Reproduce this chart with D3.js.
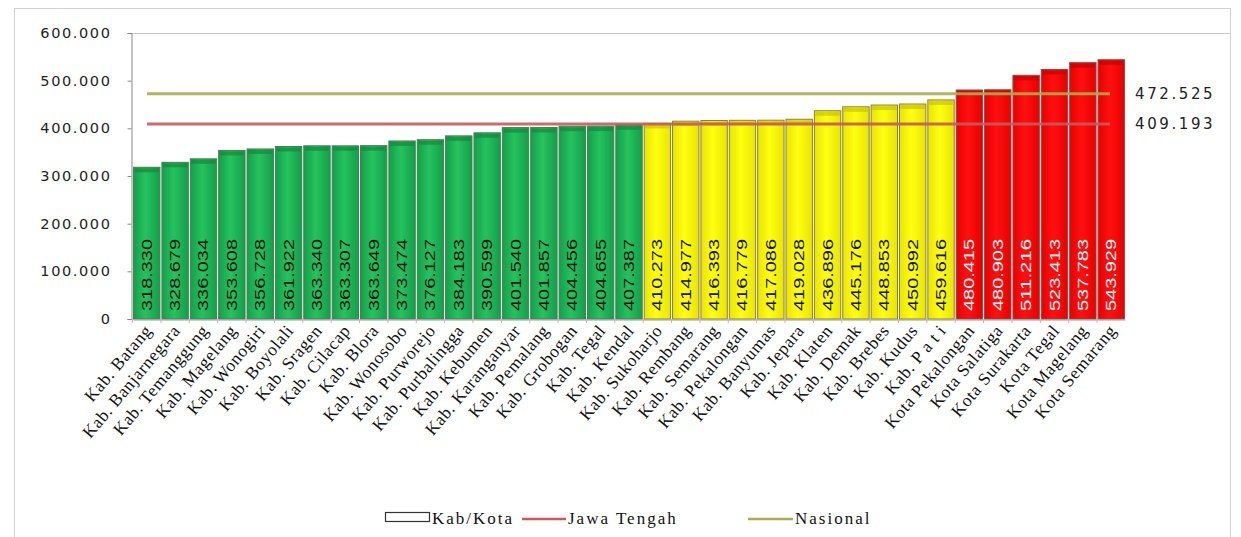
<!DOCTYPE html>
<html>
<head>
<meta charset="utf-8">
<script src="https://cdn.jsdelivr.net/npm/d3@7.9.0/dist/d3.min.js"></script>
<style>
  body { margin: 0; background: #fff; }
  svg { display: block; }
</style>
</head>
<body>
<svg id="chart" width="1241" height="537"></svg>
<script>
const wilayah = [
  'Kab. Batang', 'Kab. Banjarnegara', 'Kab. Temanggung', 'Kab. Magelang', 'Kab. Wonogiri',
  'Kab. Boyolali', 'Kab. Sragen', 'Kab. Cilacap', 'Kab. Blora', 'Kab. Wonosobo',
  'Kab. Purworejo', 'Kab. Purbalingga', 'Kab. Kebumen', 'Kab. Karanganyar', 'Kab. Pemalang',
  'Kab. Grobogan', 'Kab. Tegal', 'Kab. Kendal', 'Kab. Sukoharjo', 'Kab. Rembang',
  'Kab. Semarang', 'Kab. Pekalongan', 'Kab. Banyumas', 'Kab. Jepara', 'Kab. Klaten',
  'Kab. Demak', 'Kab. Brebes', 'Kab. Kudus', 'Kab. P a t i', 'Kota Pekalongan',
  'Kota Salatiga', 'Kota Surakarta', 'Kota Tegal', 'Kota Magelang', 'Kota Semarang'
];
const nilai = [
  318330, 328679, 336034, 353608, 356728,
  361922, 363340, 363307, 363649, 373474,
  376127, 384183, 390599, 401540, 401857,
  404456, 404655, 407387, 410273, 414977,
  416393, 416779, 417086, 419028, 436896,
  445176, 448853, 450992, 459616, 480415,
  480903, 511216, 523413, 537783, 543929
];
// kelompok warna: 0 = hijau, 1 = kuning, 2 = merah
const kelompok = [
  0, 0, 0, 0, 0, 0, 0, 0, 0, 0, 0, 0, 0, 0, 0, 0, 0, 0,
  1, 1, 1, 1, 1, 1, 1, 1, 1, 1, 1,
  2, 2, 2, 2, 2, 2
];
const jawaTengah = 409193;
const nasional = 472525;
const yTicks = [0, 100000, 200000, 300000, 400000, 500000, 600000];
const legendLabels = ['Kab/Kota', 'Jawa Tengah', 'Nasional'];

// format gaya Indonesia: 318.330
const fmt = (v) => v === 0 ? '0' : Math.floor(v / 1000) + '.' + String(v % 1000).padStart(3, '0');

const svg = d3.select('#chart');

// bingkai luar
svg.append('rect')
  .attr('x', 14.5).attr('y', 8.5).attr('width', 1216).attr('height', 560)
  .attr('fill', 'none').attr('stroke', '#d0d0d0');

const x = d3.scaleBand().domain(wilayah).range([133, 1125]).paddingInner(0.07).paddingOuter(0.02);
const y = d3.scaleLinear().domain([0, 600000]).range([319, 33]);

const fills = ['url(#gHijau)', 'url(#gKuning)', 'url(#gMerah)'];
const caps = ['#138a3c', '#c9c400', '#c80000'];
const strokes = ['#4f7a55', '#8a7f40', '#8a4a40'];

const defs = svg.append('defs');
function grad(id, edge, mid) {
  const g = defs.append('linearGradient').attr('id', id).attr('x1', 0).attr('x2', 1).attr('y1', 0).attr('y2', 0);
  g.append('stop').attr('offset', '0%').attr('stop-color', edge);
  g.append('stop').attr('offset', '45%').attr('stop-color', mid);
  g.append('stop').attr('offset', '100%').attr('stop-color', edge);
}
grad('gHijau', '#12a04a', '#26c25e');
grad('gKuning', '#e8e400', '#ffff10');
grad('gMerah', '#e80000', '#ff1010');

// garis atas area plot
svg.append('line')
  .attr('x1', 131).attr('x2', 1230).attr('y1', 33.5).attr('y2', 33.5)
  .attr('stroke', '#c8c8c8');

// sumbu y
const yAxis = d3.axisLeft(y).tickValues(yTicks).tickFormat(fmt).tickSize(4).tickPadding(16);
const gy = svg.append('g').attr('transform', 'translate(131.5,0)').call(yAxis);
gy.select('.domain').attr('stroke', '#888');
gy.selectAll('.tick line').attr('stroke', '#888');
gy.selectAll('.tick text')
  .attr('font-family', 'DejaVu Sans, sans-serif')
  .attr('font-size', 14.5)
  .attr('letter-spacing', 1.6)
  .attr('fill', '#222');

// batang
const bars = svg.append('g');
bars.selectAll('rect.bar')
  .data(wilayah)
  .join('rect')
  .attr('class', 'bar')
  .attr('x', (d) => x(d))
  .attr('y', (d, i) => y(nilai[i]))
  .attr('width', x.bandwidth())
  .attr('height', (d, i) => y(0) - y(nilai[i]))
  .attr('fill', (d, i) => fills[kelompok[i]])
  .attr('stroke', (d, i) => strokes[kelompok[i]])
  .attr('stroke-width', 1);

bars.selectAll('rect.cap')
  .data(wilayah)
  .join('rect')
  .attr('class', 'cap')
  .attr('x', (d) => x(d) + 1)
  .attr('y', (d, i) => y(nilai[i]) + 1)
  .attr('width', x.bandwidth() - 2)
  .attr('height', 4)
  .attr('fill', (d, i) => caps[kelompok[i]])
  .attr('opacity', 0.7);

// label nilai di dalam batang
bars.selectAll('text.val')
  .data(wilayah)
  .join('text')
  .attr('class', 'val')
  .attr('transform', (d) => `translate(${x(d) + x.bandwidth() / 2 + 5},${y(0) - 8}) rotate(-90)`)
  .attr('font-family', 'Liberation Sans, Arial, sans-serif')
  .attr('font-size', 14)
  .attr('textLength', 72)
  .attr('lengthAdjust', 'spacingAndGlyphs')
  .attr('fill', (d, i) => kelompok[i] === 2 ? '#fff' : '#111')
  .text((d, i) => fmt(nilai[i]));

// sumbu x
const xAxis = d3.axisBottom(x).tickSize(0).tickFormat('');
const gx = svg.append('g').attr('transform', `translate(0,${y(0) + 0.5})`).call(xAxis);
gx.select('.domain').attr('stroke', '#999');
svg.append('g').selectAll('line')
  .data(wilayah)
  .join('line')
  .attr('x1', (d) => x(d) - x.step() * x.paddingInner() / 2)
  .attr('x2', (d) => x(d) - x.step() * x.paddingInner() / 2)
  .attr('y1', y(0)).attr('y2', y(0) + 4)
  .attr('stroke', '#e8a0c0');

svg.append('g').selectAll('text')
  .data(wilayah)
  .join('text')
  .attr('transform', (d) => `translate(${x(d) + x.bandwidth() / 2 + 6},${y(0) + 12}) rotate(-50)`)
  .attr('text-anchor', 'end')
  .attr('font-family', 'Liberation Serif, Times New Roman, serif')
  .attr('font-size', 17.5)
  .attr('letter-spacing', 0.6)
  .attr('fill', '#111')
  .text((d) => d);

// garis rata-rata
const refs = [
  { v: nasional, c: '#a6b04a' },
  { v: jawaTengah, c: '#c85a5a' }
];
svg.append('g').selectAll('line')
  .data(refs)
  .join('line')
  .attr('x1', 147).attr('x2', 1110)
  .attr('y1', (d) => y(d.v)).attr('y2', (d) => y(d.v))
  .attr('stroke', (d) => d.c)
  .attr('stroke-width', 3)
  .attr('opacity', 0.9);

svg.append('g').selectAll('text')
  .data(refs)
  .join('text')
  .attr('x', 1135)
  .attr('y', (d) => y(d.v) + 5)
  .attr('font-family', 'DejaVu Sans, sans-serif')
  .attr('font-size', 15)
  .attr('letter-spacing', 2.6)
  .attr('fill', '#222')
  .text((d) => fmt(d.v));

// legenda
const leg = svg.append('g').attr('transform', 'translate(0,519)');
leg.append('rect').attr('x', 385.5).attr('y', -6.5).attr('width', 44).attr('height', 9)
  .attr('fill', '#fff').attr('stroke', '#333').attr('stroke-width', 1.2);
leg.append('text').attr('x', 432).attr('y', 5).text(legendLabels[0]);
leg.append('line').attr('x1', 522).attr('x2', 566).attr('y1', 0).attr('y2', 0)
  .attr('stroke', '#c85a5a').attr('stroke-width', 2.5);
leg.append('text').attr('x', 568).attr('y', 5).text(legendLabels[1]);
leg.append('line').attr('x1', 748).attr('x2', 793).attr('y1', 0).attr('y2', 0)
  .attr('stroke', '#a6b04a').attr('stroke-width', 2.5);
leg.append('text').attr('x', 795).attr('y', 5).text(legendLabels[2]);
leg.selectAll('text')
  .attr('font-family', 'Liberation Serif, Times New Roman, serif')
  .attr('font-size', 17)
  .attr('letter-spacing', 2)
  .attr('fill', '#111');
</script>
</body>
</html>
